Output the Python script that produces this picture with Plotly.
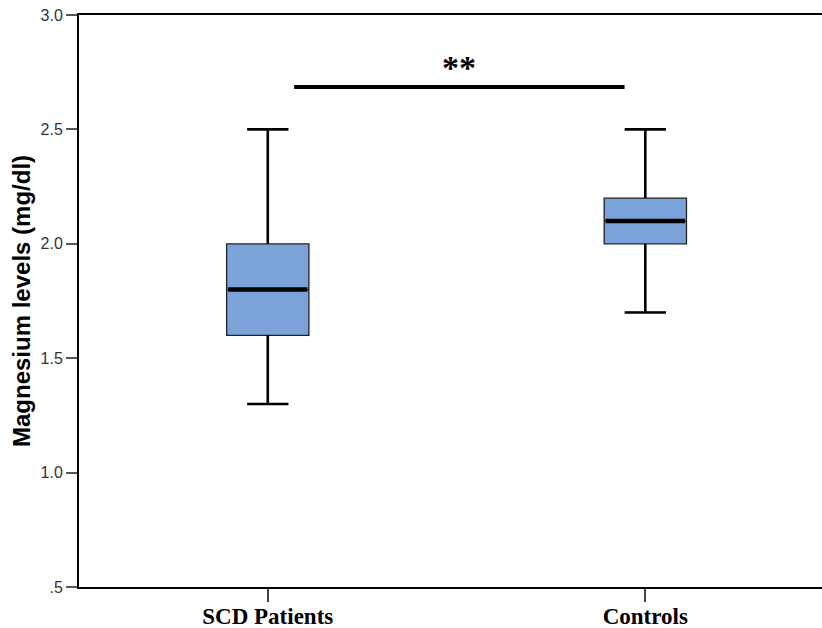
import plotly.graph_objects as go

categories = ["SCD Patients", "Controls"]
positions = [0, 1]
lower_whisker = [1.3, 1.7]
q1 = [1.6, 2.0]
median = [1.8, 2.1]
q3 = [2.0, 2.2]
upper_whisker = [2.5, 2.5]

y_tickvals = [0.5, 1.0, 1.5, 2.0, 2.5, 3.0]
y_ticktext = [".5", "1.0", "1.5", "2.0", "2.5", "3.0"]

sig_from, sig_to, sig_level, sig_label = 0.07, 0.945, 2.685, "**"

box_width = 0.218
cap_frac = 0.5
fill = "#7BA3D9"

fig = go.Figure()

fig.add_trace(go.Box(
    x=positions, q1=q1, median=median, q3=q3,
    lowerfence=lower_whisker, upperfence=upper_whisker,
    width=box_width, whiskerwidth=cap_frac,
    fillcolor=fill, line=dict(color="#222222", width=1.3),
    boxpoints=False, showlegend=False, hoverinfo="skip",
))

# thicker whiskers and caps
wx, wy = [], []
for p, lo, a, b, hi in zip(positions, lower_whisker, q1, q3, upper_whisker):
    half = box_width * cap_frac / 2
    wx += [p, p, None, p, p, None, p - half, p + half, None, p - half, p + half, None]
    wy += [lo, a, None, b, hi, None, lo, lo, None, hi, hi, None]
fig.add_trace(go.Scatter(x=wx, y=wy, mode="lines",
                         line=dict(color="black", width=2.6),
                         showlegend=False, hoverinfo="skip"))

# thick medians
mx, my = [], []
for p, m in zip(positions, median):
    mx += [p - box_width / 2 + 0.004, p + box_width / 2 - 0.004, None]
    my += [m, m, None]
fig.add_trace(go.Scatter(x=mx, y=my, mode="lines",
                         line=dict(color="black", width=4.5),
                         showlegend=False, hoverinfo="skip"))

# significance bar
fig.add_trace(go.Scatter(x=[sig_from, sig_to], y=[sig_level, sig_level], mode="lines",
                         line=dict(color="black", width=4),
                         showlegend=False, hoverinfo="skip"))
fig.add_annotation(x=(sig_from + sig_to) / 2 - 0.002, y=sig_level, yshift=-1,
                   text="<b>" + sig_label + "</b>", showarrow=False, yanchor="bottom",
                   font=dict(family="Liberation Serif", size=34, color="black"))

fig.update_layout(
    width=822, height=628,
    margin=dict(l=79, r=0, t=15, b=41),
    paper_bgcolor="white", plot_bgcolor="white",
    xaxis=dict(range=[-0.5, 1.468], tickvals=positions, ticktext=["<b>%s</b>" % c for c in categories],
               automargin=False,
               showgrid=False, zeroline=False, showline=True, linecolor="black", linewidth=2,
               mirror=True, ticks="outside", ticklen=13, tickwidth=1.5, tickcolor="#444444",
               ticklabelstandoff=-6,
               tickfont=dict(family="Liberation Serif", size=23, color="black")),
    yaxis=dict(range=[0.5, 3.0], tickvals=y_tickvals, ticktext=y_ticktext,
               automargin=False,
               showgrid=False, zeroline=False, showline=True, linecolor="black", linewidth=2,
               ticks="outside", ticklen=11, tickwidth=1.5, tickcolor="#555555",
               tickfont=dict(family="Liberation Sans", size=16, color="#333333"),
               title=dict(text="<b>Magnesium levels (mg/dl)</b>", standoff=3,
                          font=dict(family="Liberation Sans", size=24, color="black"))),
)

fig.write_html("out.html", config={"displayModeBar": False},
               post_script="document.body.style.margin='0';")
